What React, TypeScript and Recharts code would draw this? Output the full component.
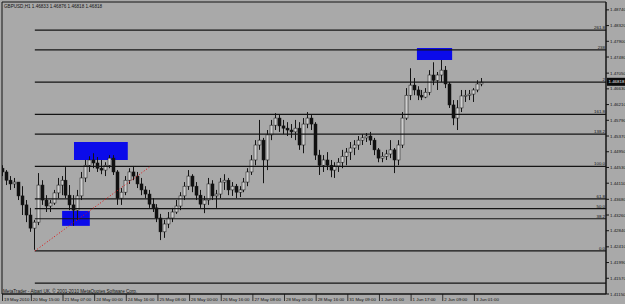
import { Bar, ComposedChart, ReferenceArea, ReferenceLine, XAxis, YAxis } from "recharts";

const W = 625;
const H = 304;
const BG = "#a9a9a9";
const INK = "#141414";
const FONT = "'Liberation Sans', Arial, sans-serif";

const header = "GBPUSD,H1  1.46833 1.46876 1.46818 1.46818";
const copyright = "MetaTrader - Alpari UK, © 2001-2010 MetaQuotes Software Corp.";

// 2-hour bars, 19 May 2010 23:00 onwards
const firstOpen = 1.4451;
const highs = [
  1.4459, 1.4446, 1.443, 1.4425, 1.4414, 1.4403, 1.4366, 1.4345, 1.4313, 1.4438,
  1.4419, 1.4379, 1.4366, 1.4393, 1.4425, 1.443, 1.4454, 1.4406, 1.4379, 1.4393,
  1.4441, 1.4473, 1.4483, 1.4491, 1.4481, 1.4473, 1.4467, 1.4486, 1.4486, 1.4446,
  1.4398, 1.443, 1.4451, 1.4457, 1.4441, 1.4425, 1.4403, 1.4393, 1.4371, 1.4355,
  1.4329, 1.4313, 1.4334, 1.4345, 1.4366, 1.4387, 1.4414, 1.4446, 1.4435, 1.4414,
  1.4393, 1.4377, 1.4425, 1.4419, 1.4393, 1.4425, 1.4435, 1.4425, 1.4414, 1.4409,
  1.4403, 1.4425, 1.4451, 1.4486, 1.4526, 1.458, 1.4532, 1.4553, 1.458, 1.4598,
  1.4593, 1.458, 1.4574, 1.4569, 1.458, 1.4574, 1.4585, 1.4601, 1.4593, 1.4574,
  1.45, 1.4486, 1.4494, 1.4473, 1.4467, 1.4478, 1.45, 1.4505, 1.4521, 1.4526,
  1.4537, 1.4542, 1.4545, 1.4548, 1.4532, 1.4505, 1.4494, 1.45, 1.4526, 1.4505,
  1.4526, 1.4601, 1.4665, 1.4718, 1.4692, 1.467, 1.466, 1.4665, 1.4713, 1.4734,
  1.4708, 1.474, 1.4724, 1.4681, 1.4633, 1.4633, 1.466, 1.466, 1.466, 1.4665,
  1.4686, 1.4692,
];
const lows = [
  1.443, 1.4406, 1.4393, 1.4398, 1.4366, 1.4326, 1.4307, 1.4281, 1.4233, 1.4299,
  1.4353, 1.4334, 1.4334, 1.4353, 1.4371, 1.4379, 1.4371, 1.4339, 1.4297, 1.4313,
  1.4366, 1.4414, 1.4441, 1.4451, 1.4441, 1.4435, 1.443, 1.4451, 1.4433, 1.4353,
  1.4353, 1.4379, 1.4409, 1.4419, 1.4398, 1.4379, 1.4371, 1.4345, 1.4334, 1.4307,
  1.4259, 1.4265, 1.4291, 1.4307, 1.4329, 1.4339, 1.4366, 1.4393, 1.4387, 1.4366,
  1.4345, 1.4331, 1.4353, 1.4366, 1.4345, 1.4371, 1.4393, 1.4379, 1.4377, 1.4371,
  1.4374, 1.4387, 1.4403, 1.4433, 1.4459, 1.45, 1.4411, 1.4446, 1.4526, 1.4553,
  1.4548, 1.4542, 1.4537, 1.4532, 1.4526, 1.45, 1.4491, 1.4558, 1.4553, 1.4473,
  1.4433, 1.4441, 1.4446, 1.4427, 1.4425, 1.4441, 1.4451, 1.4459, 1.4473, 1.4486,
  1.45, 1.4513, 1.4521, 1.4513, 1.4486, 1.4467, 1.4467, 1.4473, 1.4478, 1.4438,
  1.4459, 1.4505, 1.458, 1.4633, 1.4646, 1.4633, 1.4633, 1.4638, 1.4646, 1.4673,
  1.466, 1.4681, 1.4665, 1.4612, 1.4566, 1.4553, 1.4601, 1.4628, 1.4633, 1.4628,
  1.4654, 1.467,
];
const closes = [
  1.4441, 1.4419, 1.4409, 1.4414, 1.4377, 1.4353, 1.4326, 1.4291, 1.4307, 1.4406,
  1.4366, 1.435, 1.4358, 1.4385, 1.4406, 1.4419, 1.4379, 1.4353, 1.4339, 1.4377,
  1.4425, 1.4459, 1.4473, 1.4465, 1.4451, 1.4446, 1.4459, 1.4478, 1.4441, 1.4371,
  1.4387, 1.4419, 1.4441, 1.443, 1.4409, 1.4393, 1.4382, 1.4355, 1.4345, 1.4318,
  1.4281, 1.4302, 1.4318, 1.4334, 1.435, 1.4377, 1.4403, 1.443, 1.4403, 1.4379,
  1.4355, 1.4366, 1.4409, 1.4377, 1.4382, 1.4414, 1.4419, 1.4393, 1.4403, 1.4387,
  1.4393, 1.4414, 1.4441, 1.4473, 1.4513, 1.4526, 1.4473, 1.454, 1.4566, 1.4585,
  1.4564, 1.4558, 1.4553, 1.4548, 1.4558, 1.4513, 1.4569, 1.4585, 1.4569, 1.4486,
  1.4459, 1.4473, 1.4459, 1.4446, 1.4457, 1.4467, 1.4483, 1.4494, 1.4505, 1.4513,
  1.4526, 1.4532, 1.4537, 1.4526, 1.45, 1.4478, 1.4483, 1.4489, 1.45, 1.4473,
  1.4513, 1.4585, 1.4646, 1.4673, 1.466, 1.4646, 1.4641, 1.4654, 1.47, 1.4686,
  1.47, 1.4713, 1.4676, 1.462, 1.4585, 1.4612, 1.4644, 1.4646, 1.4649, 1.466,
  1.4676, 1.4681,
];

const xDomain = [0.7, 153.4];
const yDomain = [1.4115, 1.4895];

const timeTicks = [0.7, 8, 16, 24, 32, 40, 48, 56, 64, 72, 80, 88, 96, 104, 112, 120];
const timeLabels = [
  "19 May 2010", "20 May 15:00", "21 May 07:00", "24 May 00:00", "24 May 16:00",
  "25 May 08:00", "26 May 00:00", "26 May 16:00", "27 May 08:00", "28 May 00:00",
  "28 May 16:00", "31 May 09:00", "1 Jun 01:00", "1 Jun 17:00", "2 Jun 09:00",
  "3 Jun 01:00",
];
const priceTicks = [
  1.4874, 1.4832, 1.479, 1.4748, 1.4705, 1.4663, 1.4621, 1.4579, 1.4537, 1.4495,
  1.4453, 1.4411, 1.4368, 1.4326, 1.4284, 1.4241, 1.4199, 1.4157, 1.4115,
];

// fibonacci object drawn from the 20 May low
const fibStart = 9;
const fibLabels = ["261.8", "238", "2", "161.8", "138.2", "100.0", "61.8", "50.0", "38.2", "0.0", ""];
const fibPrices = [1.482, 1.4767, 1.4681, 1.4595, 1.4542, 1.4456, 1.4369, 1.4343, 1.4316, 1.423, 1.4144];
const trendX = [9, 38.1];
const trendY = [1.423, 1.4455];

const boxX1 = [18.9, 15.9, 105.6];
const boxX2 = [32.5, 22.9, 114.5];
const boxY1 = [1.4473, 1.4297, 1.474];
const boxY2 = [1.4521, 1.4337, 1.4772];

const bid = 1.46818;

const bars = closes.map((c, k) => ({
  i: k + 1,
  o: k === 0 ? firstOpen : closes[k - 1],
  h: highs[k],
  l: lows[k],
  c,
}));

function Candle(props: any) {
  const { x, y, width, height, payload } = props;
  if (!payload || x == null) return null;
  const top = Math.min(y, y + height);
  const bottom = Math.max(y, y + height);
  const span = payload.h - payload.l || 1e-9;
  const toY = (p: number) => top + ((payload.h - p) / span) * (bottom - top);
  const yo = toY(payload.o);
  const yc = toY(payload.c);
  const cx = Math.floor(x + width / 2) + 0.5;
  const up = payload.c >= payload.o;
  return (
    <g>
      <line x1={cx} x2={cx} y1={top} y2={bottom} stroke={INK} strokeWidth={1} />
      <rect
        x={cx - 1.5}
        y={Math.min(yo, yc)}
        width={3}
        height={Math.max(1, Math.abs(yo - yc))}
        fill={up ? "#cfcfcf" : "#111"}
        stroke={INK}
        strokeWidth={0.5}
      />
    </g>
  );
}

function TimeTick(props: any) {
  const { x, y, payload } = props;
  const k = timeTicks.indexOf(payload.value);
  return (
    <g>
      <line x1={x + 0.5} x2={x + 0.5} y1={y} y2={y + 7} stroke={INK} strokeWidth={0.8} />
      <text x={x + 2} y={y + 6.5} fontSize={4.4} fill={INK} fontFamily={FONT}>
        {timeLabels[k]}
      </text>
    </g>
  );
}

function FibLabel(props: any) {
  const { viewBox, text } = props;
  if (!viewBox) return null;
  return (
    <text x={viewBox.x + viewBox.width - 1} y={viewBox.y - 1} textAnchor="end" fontSize={4.4} fill={INK} fontFamily={FONT}>
      {text}
    </text>
  );
}

function BidLabel(props: any) {
  const { viewBox } = props;
  if (!viewBox) return null;
  const x = viewBox.x + viewBox.width + 1;
  return (
    <g>
      <rect x={x} y={viewBox.y - 4} width={22} height={8} fill="#0a0a0a" />
      <text x={x + 1.5} y={viewBox.y + 1.6} fontSize={4.4} fill="#f0f0f0" fontFamily={FONT}>
        {bid.toFixed(5)}
      </text>
    </g>
  );
}

export default function App() {
  return (
    <div style={{ position: "relative", width: W, height: H, background: BG, overflow: "hidden" }}>
      <style>{"body{margin:0}"}</style>
      <ComposedChart width={W} height={H} data={bars} margin={{ top: 2, right: 0, bottom: 0, left: 2 }}>
        <XAxis
          dataKey="i"
          type="number"
          domain={xDomain}
          ticks={timeTicks}
          interval={0}
          height={10}
          axisLine={{ stroke: INK }}
          tickLine={false}
          tickSize={0}
          tickMargin={0}
          tick={(p: any) => <TimeTick {...p} />}
          allowDataOverflow
        />
        <YAxis
          orientation="right"
          type="number"
          domain={yDomain}
          ticks={priceTicks}
          interval={0}
          width={19}
          axisLine={{ stroke: INK }}
          tickLine={{ stroke: INK }}
          tickSize={3}
          tickMargin={1}
          tick={{ fontSize: 4.4, fill: INK, fontFamily: FONT }}
          tickFormatter={(v: number) => v.toFixed(5)}
          allowDataOverflow
        />
        <ReferenceArea
          x1={xDomain[0]}
          x2={xDomain[1]}
          y1={yDomain[0]}
          y2={yDomain[1]}
          fill="none"
          stroke={INK}
          ifOverflow="visible"
        />
        {boxX1.map((x1, k) => (
          <ReferenceArea
            key={`box${k}`}
            x1={x1}
            x2={boxX2[k]}
            y1={boxY1[k]}
            y2={boxY2[k]}
            fill="#0b0bea"
            fillOpacity={1}
            stroke="none"
          />
        ))}
        {fibPrices.map((p, k) => (
          <ReferenceLine
            key={`fib${k}`}
            segment={[
              { x: fibStart, y: p },
              { x: xDomain[1], y: p },
            ]}
            stroke={INK}
            strokeWidth={1.2}
            ifOverflow="visible"
            label={fibLabels[k] ? <FibLabel text={fibLabels[k]} /> : undefined}
          />
        ))}
        <ReferenceLine
          segment={[
            { x: trendX[0], y: trendY[0] },
            { x: trendX[1], y: trendY[1] },
          ]}
          stroke="#e01010"
          strokeDasharray="1 2"
          strokeWidth={1}
        />
        <Bar
          dataKey={(d: any) => [d.l, d.h]}
          barSize={3}
          shape={(p: any) => <Candle {...p} />}
          isAnimationActive={false}
        />
        <ReferenceLine y={bid} stroke="none" label={<BidLabel />} ifOverflow="visible" />
      </ComposedChart>
      <svg width={W} height={H} style={{ position: "absolute", left: 0, top: 0, pointerEvents: "none" }}>
        <text x={4} y={7.5} fontSize={4.6} fill={INK} fontFamily={FONT}>
          {header}
        </text>
        <text x={3} y={292.5} fontSize={4.6} fill={INK} fontFamily={FONT}>
          {copyright}
        </text>
      </svg>
    </div>
  );
}
